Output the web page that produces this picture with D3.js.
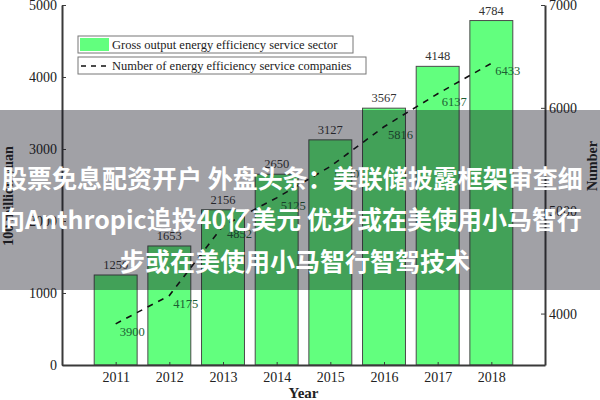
<!DOCTYPE html>
<html>
<head>
<meta charset="utf-8">
<script src="https://cdn.jsdelivr.net/npm/d3@7"></script>
<style>
  html, body { margin: 0; padding: 0; background: #fff; }
  svg { display: block; }
  .axis path, .axis line { stroke: #3a3a3a; }
  .axis text { font-family: "Liberation Serif", "Times New Roman", serif; font-size: 14px; fill: #222; }
</style>
</head>
<body>
<div id="chart"></div>
<script>
// values
const years = ["2011", "2012", "2013", "2014", "2015", "2016", "2017", "2018"];
const grossOutput = [1250, 1653, 2156, 2650, 3127, 3567, 4148, 4784];
const companies = [3900, 4175, 4852, 5125, 5430, 5816, 6137, 6433];
const leftTicks = [0, 1000, 2000, 3000, 4000, 5000];
const rightTicks = [4000, 5000, 6000, 7000];
const legendLabels = [
  "Gross output energy efficiency service sector",
  "Number of energy efficiency service companies"
];
const overlayLines = [
  "股票免息配资开户 外盘头条：美联储披露框架审查细",
  "向Anthropic追投40亿美元 优步或在美使用小马智行",
  "步或在美使用小马智行智驾技术"
];

const width = 600, height = 400;
const margin = { top: 5, right: 55, bottom: 35, left: 62 };
const serif = '"Liberation Serif", "Times New Roman", serif';

const svg = d3.select("#chart").append("svg")
  .attr("width", width)
  .attr("height", height);

// year axis runs one step past each end, bars sit on whole years
const x = d3.scaleLinear()
  .domain([+years[0] - 1, +years[years.length - 1] + 1])
  .range([margin.left, width - margin.right]);
const step = x(1) - x(0);
const barW = step * 0.8;

const yL = d3.scaleLinear().domain([0, 5000]).range([height - margin.bottom, margin.top]);
const yR = d3.scaleLinear().domain([3500, 7000]).range([height - margin.bottom, margin.top]);

// bars
svg.append("g").selectAll("rect")
  .data(years)
  .join("rect")
  .attr("x", (d) => x(+d) - barW / 2)
  .attr("y", (d, i) => yL(grossOutput[i]))
  .attr("width", barW)
  .attr("height", (d, i) => yL(0) - yL(grossOutput[i]))
  .attr("fill", "#62ff7e")
  .attr("stroke", "#4a4a4a")
  .attr("stroke-width", 1);

svg.append("g").selectAll("text")
  .data(years)
  .join("text")
  .attr("x", (d) => x(+d))
  .attr("y", (d, i) => yL(grossOutput[i]) - 6)
  .attr("text-anchor", "middle")
  .style("font-family", serif)
  .style("font-size", "12.5px")
  .style("fill", "#333")
  .text((d, i) => grossOutput[i]);

// companies line
const line = d3.line()
  .x((d, i) => x(+years[i]))
  .y((d) => yR(d));

svg.append("path")
  .datum(companies)
  .attr("d", line)
  .attr("fill", "none")
  .attr("stroke", "#111")
  .attr("stroke-width", 1.6)
  .attr("stroke-dasharray", "6,6");

svg.append("g").selectAll("text")
  .data(companies)
  .join("text")
  .attr("x", (d, i) => x(+years[i]) + 4)
  .attr("y", (d) => yR(d) + 12)
  .style("font-family", serif)
  .style("font-size", "12.5px")
  .style("fill", "#1d5e33")
  .text((d) => d);

// axes, ticks point inward
const fmt = d3.format("d");

const gL = svg.append("g")
  .attr("class", "axis")
  .attr("transform", `translate(${margin.left},0)`)
  .call(d3.axisLeft(yL).tickValues(leftTicks).tickFormat(fmt)
    .tickSizeInner(-4).tickSizeOuter(0).tickPadding(5));

const gR = svg.append("g")
  .attr("class", "axis")
  .attr("transform", `translate(${width - margin.right},0)`)
  .call(d3.axisRight(yR).tickValues(rightTicks).tickFormat(fmt)
    .tickSizeInner(-4).tickSizeOuter(0).tickPadding(4));

const gB = svg.append("g")
  .attr("class", "axis")
  .attr("transform", `translate(0,${height - margin.bottom})`)
  .call(d3.axisBottom(x).tickValues(years.map(Number)).tickFormat(fmt)
    .tickSizeInner(-3).tickSizeOuter(0).tickPadding(7));

[gL, gR, gB].forEach((g) => g.select(".domain").attr("stroke-width", 2));

// axis titles
svg.append("text")
  .attr("transform", `translate(13,196) rotate(-90)`)
  .attr("text-anchor", "middle")
  .style("font-family", serif)
  .style("font-size", "14px")
  .style("font-weight", "bold")
  .style("fill", "#222")
  .text("100 million yuan");

svg.append("text")
  .attr("transform", `translate(597,166) rotate(-90)`)
  .attr("text-anchor", "middle")
  .style("font-family", serif)
  .style("font-size", "14px")
  .style("font-weight", "bold")
  .style("fill", "#222")
  .text("Number");

svg.append("text")
  .attr("x", (margin.left + width - margin.right) / 2)
  .attr("y", 398)
  .attr("text-anchor", "middle")
  .style("font-family", serif)
  .style("font-size", "15px")
  .style("font-weight", "bold")
  .style("fill", "#222")
  .text("Year");

// legend: two separate boxes
const legendBoxes = [
  { y: 36, w: 275 },
  { y: 57, w: 288 }
];
legendLabels.forEach((label, i) => {
  const lg = svg.append("g").attr("transform", `translate(78,${legendBoxes[i].y})`);
  lg.append("rect")
    .attr("width", legendBoxes[i].w)
    .attr("height", 17)
    .attr("fill", "#fff")
    .attr("stroke", "#777");
  if (i === 0) {
    lg.append("rect")
      .attr("x", 2).attr("y", 2)
      .attr("width", 29).attr("height", 13)
      .attr("fill", "#62ff7e");
  } else {
    lg.append("line")
      .attr("x1", 3).attr("x2", 31)
      .attr("y1", 9).attr("y2", 9)
      .attr("stroke", "#111")
      .attr("stroke-width", 1.3)
      .attr("stroke-dasharray", "5,5");
  }
  lg.append("text")
    .attr("x", 34)
    .attr("y", 13)
    .style("font-family", serif)
    .style("font-size", "12.5px")
    .style("fill", "#222")
    .text(label);
});

// overlay band with headline text on top of the picture
svg.append("rect")
  .attr("x", 0).attr("y", 110)
  .attr("width", width).attr("height", 180)
  .attr("fill", "rgba(20,20,32,0.4)");

const overlayPos = [{ x: 2, y: 188 }, { x: 0, y: 229 }, { x: 120, y: 271 }];
svg.append("g").selectAll("text")
  .data(overlayLines)
  .join("text")
  .attr("x", (d, i) => overlayPos[i].x)
  .attr("y", (d, i) => overlayPos[i].y)
  .style("font-family", '"Noto Sans CJK SC", "Noto Sans", sans-serif')
  .style("font-size", "25px")
  .style("font-weight", "bold")
  .style("fill", "#fff")
  .text((d) => d);
</script>
</body>
</html>
